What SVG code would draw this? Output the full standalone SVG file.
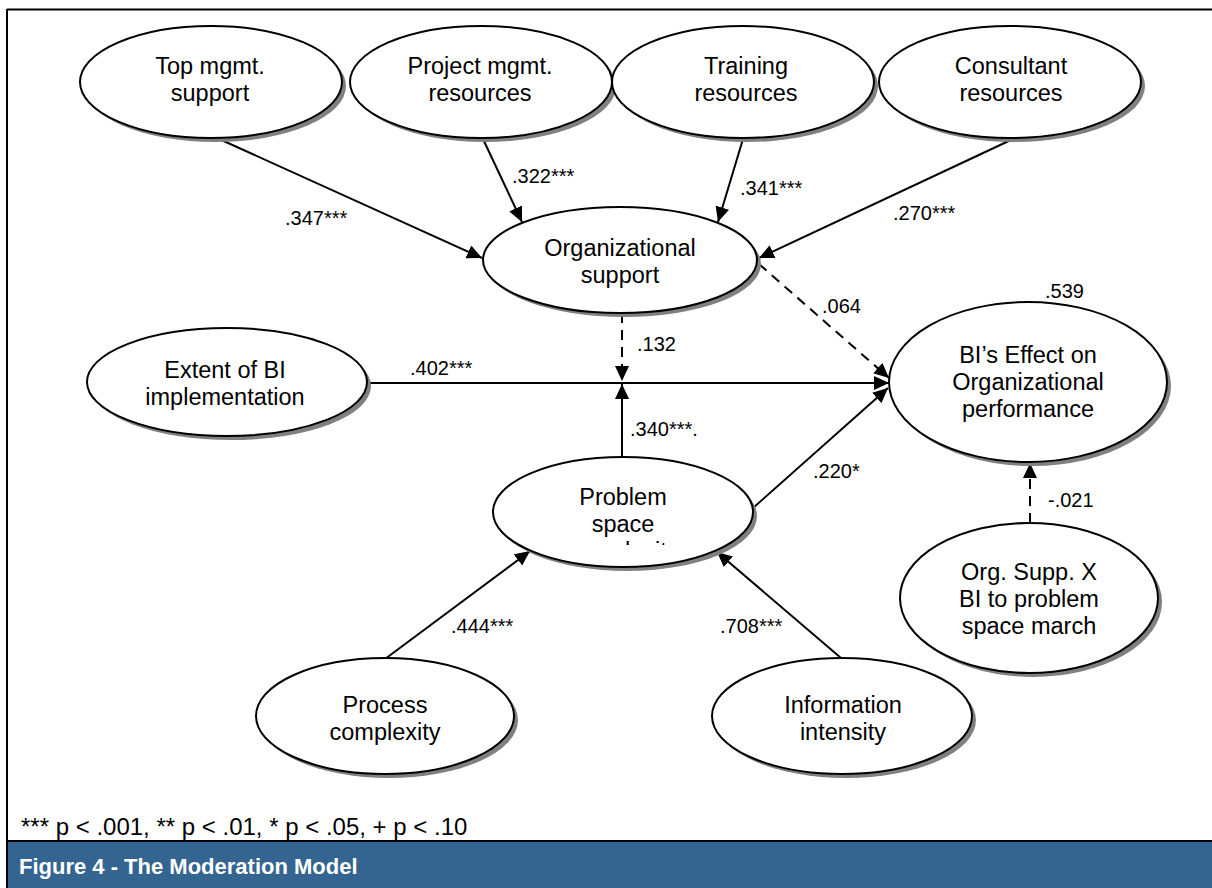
<svg xmlns="http://www.w3.org/2000/svg" width="1212" height="888" viewBox="0 0 1212 888">
<defs>
<style>
.sh{fill:#808080;stroke:none}
.nd{fill:#fff;stroke:#000;stroke-width:2}
.t{font-family:"Liberation Sans",Arial,sans-serif;font-size:23.5px;fill:#000;text-anchor:middle}
.lb{font-family:"Liberation Sans",Arial,sans-serif;font-size:20px;fill:#000}
.ln{stroke:#000;stroke-width:2;fill:none;marker-end:url(#ah)}
.ds{stroke-dasharray:10 7}
</style>
<marker id="ah" markerUnits="userSpaceOnUse" markerWidth="16" markerHeight="14" refX="15" refY="7" orient="auto">
<path d="M0,0 L15,7 L0,14 Z" fill="#000"/>
</marker>
<clipPath id="psclip"><rect x="480" y="450" width="290" height="95"/></clipPath>
</defs>
<rect x="0" y="0" width="1212" height="888" fill="#fff"/>
<rect x="8" y="842" width="1204" height="46" fill="#346591"/>
<line x1="7" y1="9.5" x2="1212" y2="9.5" stroke="#000" stroke-width="2"/>
<line x1="7" y1="9" x2="7" y2="888" stroke="#000" stroke-width="2"/>
<line x1="7" y1="841" x2="1212" y2="841" stroke="#000" stroke-width="2"/>
<text x="21" y="835" style="font-family:'Liberation Sans',Arial,sans-serif;font-size:24px;fill:#000">*** p &lt; .001, ** p &lt; .01, * p &lt; .05, + p &lt; .10</text>
<text x="19" y="874" style="font-family:'Liberation Sans',Arial,sans-serif;font-size:22px;font-weight:bold;fill:#fff">Figure 4 - The Moderation Model</text>

<g id="connectors">
<line class="ln" x1="217" y1="138" x2="482" y2="258"/>
<line class="ln" x1="483" y1="139" x2="522" y2="222"/>
<line class="ln" x1="743" y1="139" x2="718" y2="222"/>
<line class="ln" x1="1013" y1="139" x2="759" y2="258"/>
<line class="ln ds" x1="622" y1="313" x2="622" y2="381"/>
<line class="ln ds" x1="759" y1="264" x2="889" y2="378"/>
<line class="ln" x1="367" y1="383" x2="889" y2="383"/>
<line class="ln" x1="622" y1="458" x2="622" y2="384"/>
<line class="ln" x1="753" y1="508" x2="888" y2="388"/>
<line class="ln" x1="385" y1="659" x2="530" y2="551"/>
<line class="ln" x1="841" y1="658" x2="717" y2="552"/>
<line class="ln ds" x1="1030" y1="523" x2="1030" y2="463"/>
</g>

<g id="labels">
<text class="lb" x="285" y="225">.347***</text>
<text class="lb" x="512" y="183">.322***</text>
<text class="lb" x="740" y="195">.341***</text>
<text class="lb" x="893" y="220">.270***</text>
<text class="lb" x="822" y="313">.064</text>
<text class="lb" x="637" y="351">.132</text>
<text class="lb" x="410" y="375">.402***</text>
<text class="lb" x="630" y="436">.340***.</text>
<text class="lb" x="813" y="478">.220*</text>
<text class="lb" x="1045" y="298">.539</text>
<text class="lb" x="1048" y="507">-.021</text>
<text class="lb" x="451" y="633">.444***</text>
<text class="lb" x="720" y="633">.708***</text>
</g>

<g id="top-mgmt">
<ellipse class="sh" cx="215" cy="86" rx="131" ry="56"/>
<ellipse class="nd" cx="211" cy="82" rx="131" ry="56"/>
<text class="t" x="210" y="74">Top mgmt.</text>
<text class="t" x="210" y="101">support</text>
</g>
<g id="project-mgmt">
<ellipse class="sh" cx="485" cy="86" rx="131" ry="56"/>
<ellipse class="nd" cx="481" cy="82" rx="131" ry="56"/>
<text class="t" x="480" y="74">Project mgmt.</text>
<text class="t" x="480" y="101">resources</text>
</g>
<g id="training">
<ellipse class="sh" cx="747" cy="86" rx="131" ry="56"/>
<ellipse class="nd" cx="743" cy="82" rx="131" ry="56"/>
<text class="t" x="746" y="74">Training</text>
<text class="t" x="746" y="101">resources</text>
</g>
<g id="consultant">
<ellipse class="sh" cx="1014" cy="86" rx="131" ry="56"/>
<ellipse class="nd" cx="1010" cy="82" rx="131" ry="56"/>
<text class="t" x="1011" y="74">Consultant</text>
<text class="t" x="1011" y="101">resources</text>
</g>
<g id="org-support">
<ellipse class="sh" cx="624" cy="264" rx="137" ry="53"/>
<ellipse class="nd" cx="620" cy="260" rx="137" ry="53"/>
<text class="t" x="620" y="256">Organizational</text>
<text class="t" x="620" y="283">support</text>
</g>
<g id="extent-bi">
<ellipse class="sh" cx="231" cy="386" rx="140" ry="54"/>
<ellipse class="nd" cx="227" cy="382" rx="140" ry="54"/>
<text class="t" x="225" y="378">Extent of BI</text>
<text class="t" x="225" y="405">implementation</text>
</g>
<g id="bi-effect">
<ellipse class="sh" cx="1032" cy="386" rx="139" ry="80"/>
<ellipse class="nd" cx="1028" cy="382" rx="139" ry="80"/>
<text class="t" x="1028" y="363">BI’s Effect on</text>
<text class="t" x="1028" y="390">Organizational</text>
<text class="t" x="1028" y="417">performance</text>
</g>
<g id="problem-space">
<ellipse class="sh" cx="627" cy="516" rx="130" ry="55"/>
<ellipse class="nd" cx="623" cy="512" rx="130" ry="55"/>
<text class="t" x="623" y="505">Problem</text>
<text class="t" x="623" y="532">space</text>
<text class="t" x="623" y="559" clip-path="url(#psclip)">complexity</text>
</g>
<g id="process-complexity">
<ellipse class="sh" cx="389" cy="720" rx="129" ry="58"/>
<ellipse class="nd" cx="385" cy="716" rx="129" ry="58"/>
<text class="t" x="385" y="713">Process</text>
<text class="t" x="385" y="740">complexity</text>
</g>
<g id="information-intensity">
<ellipse class="sh" cx="846" cy="720" rx="130" ry="58"/>
<ellipse class="nd" cx="842" cy="716" rx="130" ry="58"/>
<text class="t" x="843" y="713">Information</text>
<text class="t" x="843" y="740">intensity</text>
</g>
<g id="org-supp-x">
<ellipse class="sh" cx="1033" cy="602" rx="129" ry="75"/>
<ellipse class="nd" cx="1029" cy="598" rx="129" ry="75"/>
<text class="t" x="1029" y="580">Org. Supp. X</text>
<text class="t" x="1029" y="607">BI to problem</text>
<text class="t" x="1029" y="634">space march</text>
</g>
</svg>
